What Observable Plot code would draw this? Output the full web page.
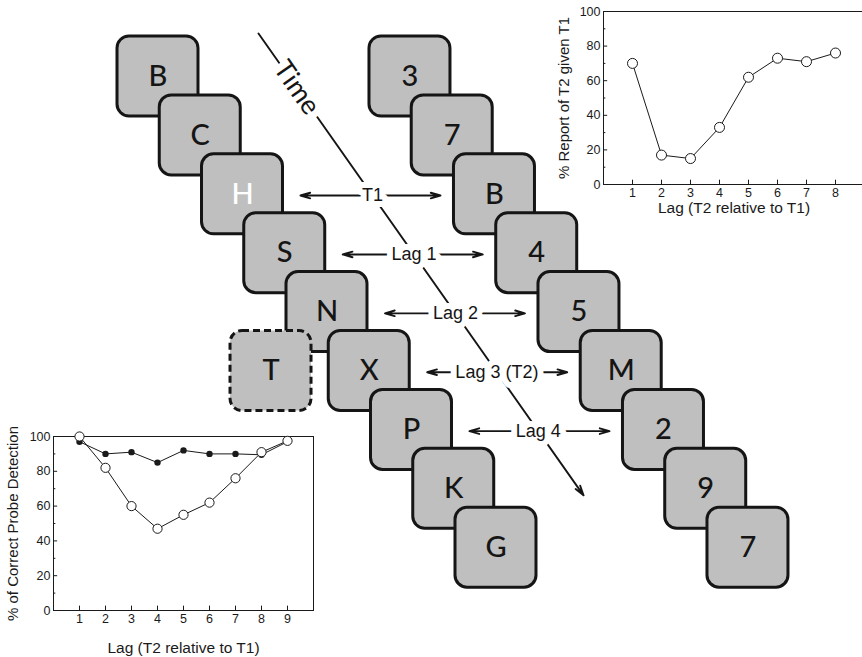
<!DOCTYPE html>
<html><head><meta charset="utf-8">
<script src="https://cdn.jsdelivr.net/npm/d3@7"></script>
<script src="https://cdn.jsdelivr.net/npm/@observablehq/plot@0.6"></script>
<style>
body{margin:0;background:#fff;}
#fig{position:relative;width:862px;height:657px;overflow:hidden;background:#fff;}
#fig svg{position:absolute;}
</style></head><body><div id="fig"></div>
<script>
// ---- data ----
const leftStream = ["B","C","H","S","N","X","P","K","G"];
const rightStream = ["3","7","B","4","5","M","2","9","7"];
const t1Index = 2;
const probeLetter = "T";
const probeIndex = 5;
const lagLabels = ["T1","Lag 1","Lag 2","Lag 3 (T2)","Lag 4"];
const timeLabel = "Time";

const lagsT2 = [1,2,3,4,5,6,7,8];
const reportT2 = [70,17,15,33,62,73,71,76];
const lagsProbe = [1,2,3,4,5,6,7,8,9];
const probeOpen = [100,82,60,47,55,62,76,91,97.5];
const probeFilled = [97,90,91,85,92,90,90,89.5,97];
const yTicks = [0,20,40,60,80,100];
const yMinor = [10,30,50,70,90];

// ---- layout (stream-step units) ----
const CARD_W = 1.917, CARD_H = 1.358, STACK_GAP = 5.964, PROBE_SHIFT = -2.325;
const ROW_MID = 0.7, ARROW_L = 2.33, ARROW_R = 5.645;
const tStart = {x: 3.337, y: -0.051}, tEnd = {x: 11.03, y: 7.79};
const onTime = y => tStart.x + (y - tStart.y) * (tEnd.x - tStart.x) / (tEnd.y - tStart.y);

const cards = [
  ...leftStream.map((c, i) => ({label: c, x: i, y: i, white: i === t1Index, order: i < probeIndex ? 0 : 2})),
  {label: probeLetter, x: probeIndex + PROBE_SHIFT, y: probeIndex, white: false, order: 1},
  ...rightStream.map((c, i) => ({label: c, x: i + STACK_GAP, y: i, white: false, order: 2}))
];
const lagRows = lagLabels.map((lab, j) => {
  const y = t1Index + j + ROW_MID;
  return {label: lab, y, xc: onTime(y), xl: t1Index + j + ARROW_L, xr: t1Index + j + ARROW_R};
});
const timeY = 0.87;

const cardStyle = {
  x1: d => d.x, x2: d => d.x + CARD_W, y1: d => d.y, y2: d => d.y + CARD_H,
  fill: "#bfbfbf", stroke: "#151515", strokeWidth: 3, rx: 12
};
const arrowStyle = {stroke: "#151515", strokeWidth: 1.9, headLength: 8, headAngle: 32};

const main = Plot.plot({
  width: 862, height: 657, margin: 0,
  x: {domain: [-117/42.25, (862-117)/42.25], range: [0, 862], axis: null},
  y: {domain: [-36/58.9, (657-36)/58.9], range: [0, 657], axis: null},
  marks: [
    Plot.arrow([0], {x1: () => tStart.x, y1: () => tStart.y, x2: () => tEnd.x, y2: () => tEnd.y, ...arrowStyle}),
    Plot.arrow(lagRows, {x1: "xc", y1: "y", x2: "xl", y2: "y", ...arrowStyle}),
    Plot.arrow(lagRows, {x1: "xc", y1: "y", x2: "xr", y2: "y", ...arrowStyle}),
    Plot.text(lagRows, {x: "xc", y: "y", text: "label", fill: "#151515", stroke: "white", strokeWidth: 12, fontSize: 18, fontFamily: "Liberation Sans, Arial, sans-serif"}),
    Plot.text([timeLabel], {x: () => onTime(timeY), y: () => timeY, text: d => d, rotate: 55, fill: "#151515", stroke: "white", strokeWidth: 14, fontSize: 27, fontFamily: "Lato, sans-serif"}),
    Plot.rect(cards.filter(d => d.order === 0), cardStyle),
    Plot.rect(cards.filter(d => d.order === 1), {...cardStyle, strokeDasharray: "7,4"}),
    Plot.rect(cards.filter(d => d.order === 2), cardStyle),
    Plot.text(cards, {x: d => d.x + CARD_W/2, y: d => d.y + CARD_H/2, text: "label", fill: d => d.white ? "#ffffff" : "#151515", fontSize: 29, fontWeight: 500, fontFamily: "Lato, sans-serif"})
  ]
});

const font = "Liberation Sans, Arial, Helvetica, sans-serif";
function inset({width, height, mLeft, mTop, mRight, mBottom, xMax, ticksX, xLabel, yLabel, xLabelDy, yLabelDx, series}) {
  return Plot.plot({
    width, height, marginLeft: mLeft, marginTop: mTop, marginRight: mRight, marginBottom: mBottom,
    style: {background: "transparent", fontFamily: font, color: "#1a1a1a", overflow: "visible"},
    x: {domain: [0, xMax]}, y: {domain: [0, 100]},
    marks: [
      Plot.frame({stroke: "#1a1a1a"}),
      Plot.ruleY(yTicks, {y: d => d, x1: 0, x2: xMax * 0.016, stroke: "#1a1a1a"}),
      Plot.ruleY(yMinor, {y: d => d, x1: 0, x2: xMax * 0.009, stroke: "#1a1a1a"}),
      Plot.ruleX(ticksX, {x: d => d, y1: 0, y2: 2.5, stroke: "#1a1a1a"}),
      Plot.axisX({ticks: ticksX, tickSize: 0, tickPadding: 4, fontSize: 12.5, label: null}),
      Plot.axisY({ticks: yTicks, tickSize: 0, tickPadding: 3, fontSize: 12.5, label: null}),
      ...series,
      Plot.text([xLabel], {text: d => d, frameAnchor: "bottom", dy: xLabelDy, lineAnchor: "middle", textAnchor: "middle", fontSize: 15.5, fill: "#1a1a1a"}),
      Plot.text([yLabel], {text: d => d, frameAnchor: "left", dx: yLabelDx, rotate: -90, lineAnchor: "middle", textAnchor: "middle", fontSize: 15, fill: "#1a1a1a"})
    ]
  });
}

const tA = lagsT2.map((l, i) => ({lag: l, v: reportT2[i]}));
const insetA = inset({
  width: 324, height: 240, mLeft: 63, mTop: 11, mRight: 0, mBottom: 56, xMax: 9,
  ticksX: lagsT2, xLabel: "Lag (T2 relative to T1)", yLabel: "% Report of T2 given T1",
  xLabelDy: 24, yLabelDx: -39,
  series: [
    Plot.line(tA, {x: "lag", y: "v", stroke: "#1a1a1a", strokeWidth: 1}),
    Plot.dot(tA, {x: "lag", y: "v", r: 5, fill: "white", stroke: "#1a1a1a", strokeWidth: 1})
  ]
});

const pO = lagsProbe.map((l, i) => ({lag: l, v: probeOpen[i]}));
const pF = lagsProbe.map((l, i) => ({lag: l, v: probeFilled[i]}));
const insetB = inset({
  width: 330, height: 237, mLeft: 53, mTop: 16, mRight: 17, mBottom: 47, xMax: 10,
  ticksX: lagsProbe, xLabel: "Lag (T2 relative to T1)", yLabel: "% of Correct Probe Detection",
  xLabelDy: 38, yLabelDx: -40,
  series: [
    Plot.line(pF, {x: "lag", y: "v", stroke: "#1a1a1a", strokeWidth: 1}),
    Plot.dot(pF, {x: "lag", y: "v", r: 3.2, fill: "#1a1a1a"}),
    Plot.line(pO, {x: "lag", y: "v", stroke: "#1a1a1a", strokeWidth: 1}),
    Plot.dot(pO, {x: "lag", y: "v", r: 4.6, fill: "white", stroke: "#1a1a1a", strokeWidth: 1})
  ]
});

const fig = document.getElementById("fig");
main.style.left = "0px"; main.style.top = "0px";
insetA.style.left = "540px"; insetA.style.top = "0px";
insetB.style.left = "0px"; insetB.style.top = "420px";
fig.append(main, insetA, insetB);
</script></body></html>
